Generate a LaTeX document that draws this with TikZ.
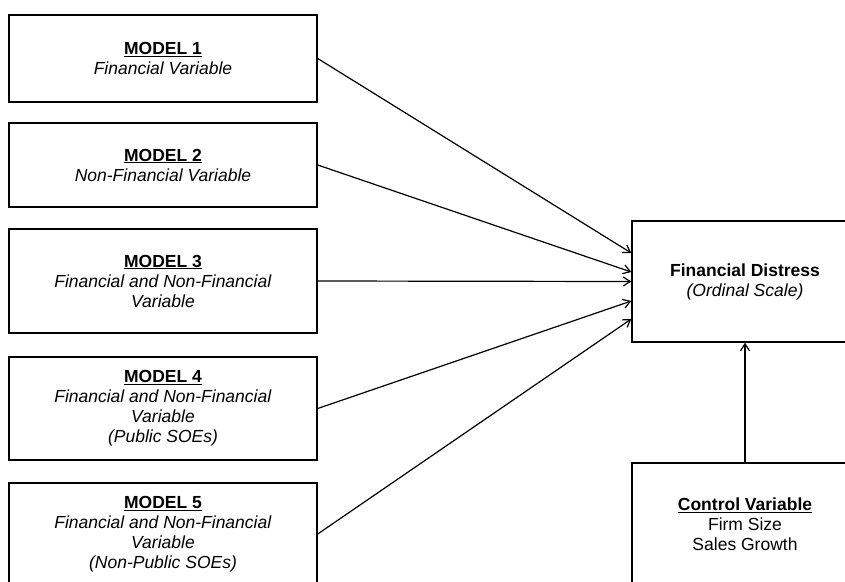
\documentclass[tikz,border=0pt]{standalone}
\usepackage{fontspec}
\setmainfont{Liberation Sans}
\usetikzlibrary{arrows.meta}

\begin{document}
\begin{tikzpicture}[x=1pt,y=-1pt,>={Straight Barb[length=7pt,width=9pt]}]
        \clip (0,0) rectangle (845,581);
        \begin{scope}[every node/.style={rectangle,draw,line width=1.4pt,align=center,minimum width=308pt,font=\fontsize{17.5}{20}\selectfont}]
            \node (m1) [minimum height=87pt] at (163, 58.5) {\underline{\textbf{MODEL 1}}\\\textit{Financial Variable}};
            \node (m2) [minimum height=84pt] at (163, 165) {\underline{\textbf{MODEL 2}}\\\textit{Non-Financial Variable}};
            \node (m3) [minimum height=104pt] at (163, 281) {\underline{\textbf{MODEL 3}}\\\textit{Financial and Non-Financial}\\\textit{Variable}};
            \node (m4) [minimum height=103pt] at (163, 408.5) {\underline{\textbf{MODEL 4}}\\\textit{Financial and Non-Financial}\\\textit{Variable}\\\textit{(Public SOEs)}};
            \node (m5) [minimum height=102pt] at (163, 534) {\underline{\textbf{MODEL 5}}\\\textit{Financial and Non-Financial}\\\textit{Variable}\\\textit{(Non-Public SOEs)}};
        \end{scope}
        \begin{scope}[every node/.style={rectangle,draw,line width=1.4pt,align=center,minimum width=226pt,font=\fontsize{17.5}{20}\selectfont}]
            \node (fd) [minimum height=121pt] at (745, 281.5) {\textbf{Financial Distress}\\\textit{(Ordinal Scale)}};
            \node (cv) [minimum height=122pt] at (745, 524) {\underline{\textbf{Control Variable}}\\Firm Size\\Sales Growth};
        \end{scope}
        \path [->] (m1.east) edge[draw=black,line width=1.2pt] ([yshift=28.5pt]fd.west);
        \path [->] (m2.east) edge[draw=black,line width=1.2pt] ([yshift=9.5pt]fd.west);
        \path [->] (m3.east) edge[draw=black,line width=1.2pt] (fd.west);
        \path [->] (m4.east) edge[draw=black,line width=1.2pt] ([yshift=-19.5pt]fd.west);
        \path [->] (m5.east) edge[draw=black,line width=1.2pt] ([yshift=-37.5pt]fd.west);
        \path [->] (cv.north) edge[draw=black,line width=1.2pt] (fd.south);
    \end{tikzpicture}
\end{document}
